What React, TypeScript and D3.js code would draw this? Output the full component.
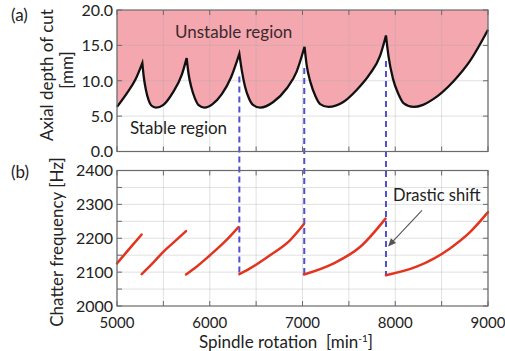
import React from 'react';
import * as d3 from 'd3';

// spindle speed [min^-1] vs axial depth limit [mm], one lobe per array (peak to peak)
const lobe0 = [[5000, 6.3], [5100, 8.1], [5200, 10.2], [5273, 12.5]];
const lobe1 = [[5273, 12.5], [5288, 10.6], [5312, 8.7], [5340, 7.3], [5370, 6.5], [5420, 6.2], [5500, 6.6], [5600, 8.3], [5700, 10.9], [5751, 13.2]];
const lobe2 = [[5751, 13.2], [5770, 11.1], [5803, 9.0], [5840, 7.5], [5880, 6.55], [5945, 6.2], [6030, 6.7], [6130, 8.1], [6230, 10.5], [6319, 13.8]];
const lobe3 = [[6319, 13.8], [6345, 11.5], [6380, 9.2], [6420, 7.6], [6466, 6.6], [6545, 6.2], [6685, 7.0], [6829, 8.9], [6937, 11.3], [7022, 14.8]];
const lobe4 = [[7022, 14.8], [7045, 12.2], [7088, 9.7], [7140, 7.8], [7190, 6.7], [7280, 6.3], [7440, 7.0], [7584, 8.7], [7728, 11.0], [7836, 13.5], [7900, 16.4]];
const lobe5 = [[7900, 16.4], [7928, 13.4], [7975, 10.3], [8035, 8.1], [8092, 6.8], [8195, 6.3], [8300, 6.6], [8410, 7.4], [8626, 9.9], [8806, 12.8], [9000, 17.2]];
const lobes = [lobe0, lobe1, lobe2, lobe3, lobe4, lobe5];

// chatter frequency [Hz] branches
const freq1 = [[5000, 2126], [5130, 2168], [5266, 2211]];
const freq2 = [[5266, 2094], [5380, 2125], [5499, 2160], [5620, 2190], [5744, 2221]];
const freq3 = [[5744, 2093], [5858, 2116], [6003, 2150], [6160, 2189], [6310, 2233]];
const freq4 = [[6319, 2094], [6434, 2111], [6650, 2150], [6865, 2194], [7016, 2242]];
const freq5 = [[7016, 2093], [7337, 2126], [7620, 2174], [7895, 2258]];
const freq6 = [[7900, 2091], [8230, 2116], [8590, 2170], [8806, 2218], [9000, 2277]];
const freqBranches = [freq1, freq2, freq3, freq4, freq5, freq6];

// drastic shift positions
const shiftSpeeds = [6319, 7019, 7900];
const shiftDepthTop = [10.6, 11.8, 12.8];
const shiftFreqLow = [2094, 2093, 2091];

const speedLabels = [5000, 6000, 7000, 8000, 9000];
const speedTicks = d3.range(5000, 9001, 500);
const depthTicks = [0, 5, 10, 15, 20];
const freqLabels = [2000, 2100, 2200, 2300, 2400];
const freqTicks = d3.range(2000, 2401, 50);

const W = 505, H = 351;
const FONT = 'Lato, "Open Sans", sans-serif';

export default function App() {
  const x = d3.scaleLinear().domain([5000, 9000]).range([117, 488]);
  const yA = d3.scaleLinear().domain([0, 20]).range([151.5, 10]);
  const yB = d3.scaleLinear().domain([2000, 2400]).range([306, 170.5]);

  const lineA = d3.line<number[]>().x(d => x(d[0])).y(d => yA(d[1])).curve(d3.curveMonotoneX);
  const lineB = d3.line<number[]>().x(d => x(d[0])).y(d => yB(d[1])).curve(d3.curveMonotoneX);

  // join lobes into one path so the cusps stay sharp
  const boundary = lobes.map((l, i) => {
    const p = lineA(l) || '';
    return i === 0 ? p : 'L' + p.slice(1);
  }).join('');
  const fillPath = boundary + `L${x(9000)},${yA(20)}L${x(5000)},${yA(20)}Z`;

  const frame = (top: number, bottom: number) => (
    <rect x={x(5000)} y={top} width={x(9000) - x(5000)} height={bottom - top} fill="none" stroke="#6a6a6a" strokeWidth={1.2} />
  );

  const gridColor = 'rgba(170,170,170,0.45)';
  const tick = 5;

  // arrow in data coordinates
  const arrowFrom = [8288, 2282];
  const arrowTo = [7922, 2176];
  const ax0 = x(arrowFrom[0]), ay0 = yB(arrowFrom[1]);
  const ax1 = x(arrowTo[0]), ay1 = yB(arrowTo[1]);
  const ang = Math.atan2(ay1 - ay0, ax1 - ax0);
  const hl = 8, hw = 3.5;
  const head = [
    [ax1, ay1],
    [ax1 - hl * Math.cos(ang) + hw * Math.sin(ang), ay1 - hl * Math.sin(ang) - hw * Math.cos(ang)],
    [ax1 - hl * Math.cos(ang) - hw * Math.sin(ang), ay1 - hl * Math.sin(ang) + hw * Math.cos(ang)],
  ];

  return (
    <svg width={W} height={H} style={{ position: 'absolute', left: 0, top: 0, background: '#fff' }} fontFamily={FONT}>
      {/* panel (a) */}
      <path d={fillPath} fill="#f4a7ae" />
      {speedTicks.map(s => (
        <line key={'ga' + s} x1={x(s)} x2={x(s)} y1={yA(20)} y2={yA(0)} stroke={gridColor} strokeWidth={0.8} />
      ))}
      {depthTicks.slice(1, -1).map(v => (
        <line key={'gha' + v} x1={x(5000)} x2={x(9000)} y1={yA(v)} y2={yA(v)} stroke={gridColor} strokeWidth={0.8} />
      ))}
      <path d={boundary} fill="none" stroke="#111" strokeWidth={2.3} strokeLinejoin="miter" strokeMiterlimit={5} />

      {/* panel (b) grid */}
      {speedTicks.map(s => (
        <line key={'gb' + s} x1={x(s)} x2={x(s)} y1={yB(2400)} y2={yB(2000)} stroke={gridColor} strokeWidth={0.8} />
      ))}
      {freqTicks.slice(1, -1).map(v => (
        <line key={'ghb' + v} x1={x(5000)} x2={x(9000)} y1={yB(v)} y2={yB(v)} stroke={gridColor} strokeWidth={0.8} />
      ))}

      {/* dashed shift markers */}
      {shiftSpeeds.map((s, i) => (
        <line key={'sh' + s} x1={x(s)} x2={x(s)} y1={yA(shiftDepthTop[i])} y2={yB(shiftFreqLow[i])}
          stroke="#4f4fcf" strokeWidth={2} strokeDasharray="6,4" />
      ))}

      {freqBranches.map((b, i) => (
        <path key={'fb' + i} d={lineB(b) || ''} fill="none" stroke="#e2341f" strokeWidth={2.5} strokeLinecap="round" />
      ))}

      {/* frames and ticks */}
      {frame(yA(20), yA(0))}
      {frame(yB(2400), yB(2000))}
      {speedTicks.map(s => (
        <g key={'t' + s} stroke="#6a6a6a" strokeWidth={1}>
          <line x1={x(s)} x2={x(s)} y1={yA(0)} y2={yA(0) - tick} />
          <line x1={x(s)} x2={x(s)} y1={yA(20)} y2={yA(20) + tick} />
          <line x1={x(s)} x2={x(s)} y1={yB(2000)} y2={yB(2000) - tick} />
          <line x1={x(s)} x2={x(s)} y1={yB(2400)} y2={yB(2400) + tick} />
        </g>
      ))}
      {depthTicks.map(v => (
        <g key={'td' + v} stroke="#6a6a6a" strokeWidth={1}>
          <line x1={x(5000)} x2={x(5000) + tick} y1={yA(v)} y2={yA(v)} />
          <line x1={x(9000)} x2={x(9000) - tick} y1={yA(v)} y2={yA(v)} />
        </g>
      ))}
      {freqTicks.map(v => (
        <g key={'tf' + v} stroke="#6a6a6a" strokeWidth={1}>
          <line x1={x(5000)} x2={x(5000) + tick} y1={yB(v)} y2={yB(v)} />
          <line x1={x(9000)} x2={x(9000) - tick} y1={yB(v)} y2={yB(v)} />
        </g>
      ))}

      {/* tick labels */}
      <g fontSize={16} fill="#222" textAnchor="end">
        {depthTicks.map(v => (
          <text key={'ld' + v} x={x(5000) - 4} y={yA(v)} dy="0.36em">{v.toFixed(1)}</text>
        ))}
        {freqLabels.map(v => (
          <text key={'lf' + v} x={x(5000) - 4} y={yB(v)} dy="0.36em">{v}</text>
        ))}
      </g>
      <g fontSize={15} fill="#222" textAnchor="middle">
        {speedLabels.map(s => (
          <text key={'ls' + s} x={x(s)} y={323} dy="0.36em">{s}</text>
        ))}
      </g>

      {/* titles */}
      <text x={286} y={342} dy="0.36em" fontSize={17} fill="#222" textAnchor="middle" style={{ whiteSpace: 'pre' }}>
        {'Spindle rotation  [min'}<tspan fontSize={10} dy="-6">-1</tspan><tspan dy="6">]</tspan>
      </text>
      <text transform="translate(47,75) rotate(-90)" fontSize={17} fill="#222" textAnchor="middle" dy="0.36em">Axial depth of cut</text>
      <text transform="translate(67,70) rotate(-90)" fontSize={17} fill="#222" textAnchor="middle" dy="0.36em">[mm]</text>
      <text transform="translate(57,242) rotate(-90)" fontSize={17} fill="#222" textAnchor="middle" dy="0.36em">Chatter frequency [Hz]</text>
      <text x={11} y={15} dy="0.36em" fontSize={17} fill="#222">(a)</text>
      <text x={11} y={172} dy="0.36em" fontSize={17} fill="#222">(b)</text>

      <text x={175} y={32} dy="0.36em" fontSize={17} fill="#3a2a2e">Unstable region</text>
      <text x={130} y={128} dy="0.36em" fontSize={17} fill="#222">Stable region</text>
      <text x={393} y={195} dy="0.36em" fontSize={16.5} fill="#222">Drastic shift</text>

      <line x1={ax0} y1={ay0} x2={ax1 - 6 * Math.cos(ang)} y2={ay1 - 6 * Math.sin(ang)} stroke="#555" strokeWidth={1.1} />
      <path d={`M${head.map(p => p.join(',')).join('L')}Z`} fill="#555" />
    </svg>
  );
}
